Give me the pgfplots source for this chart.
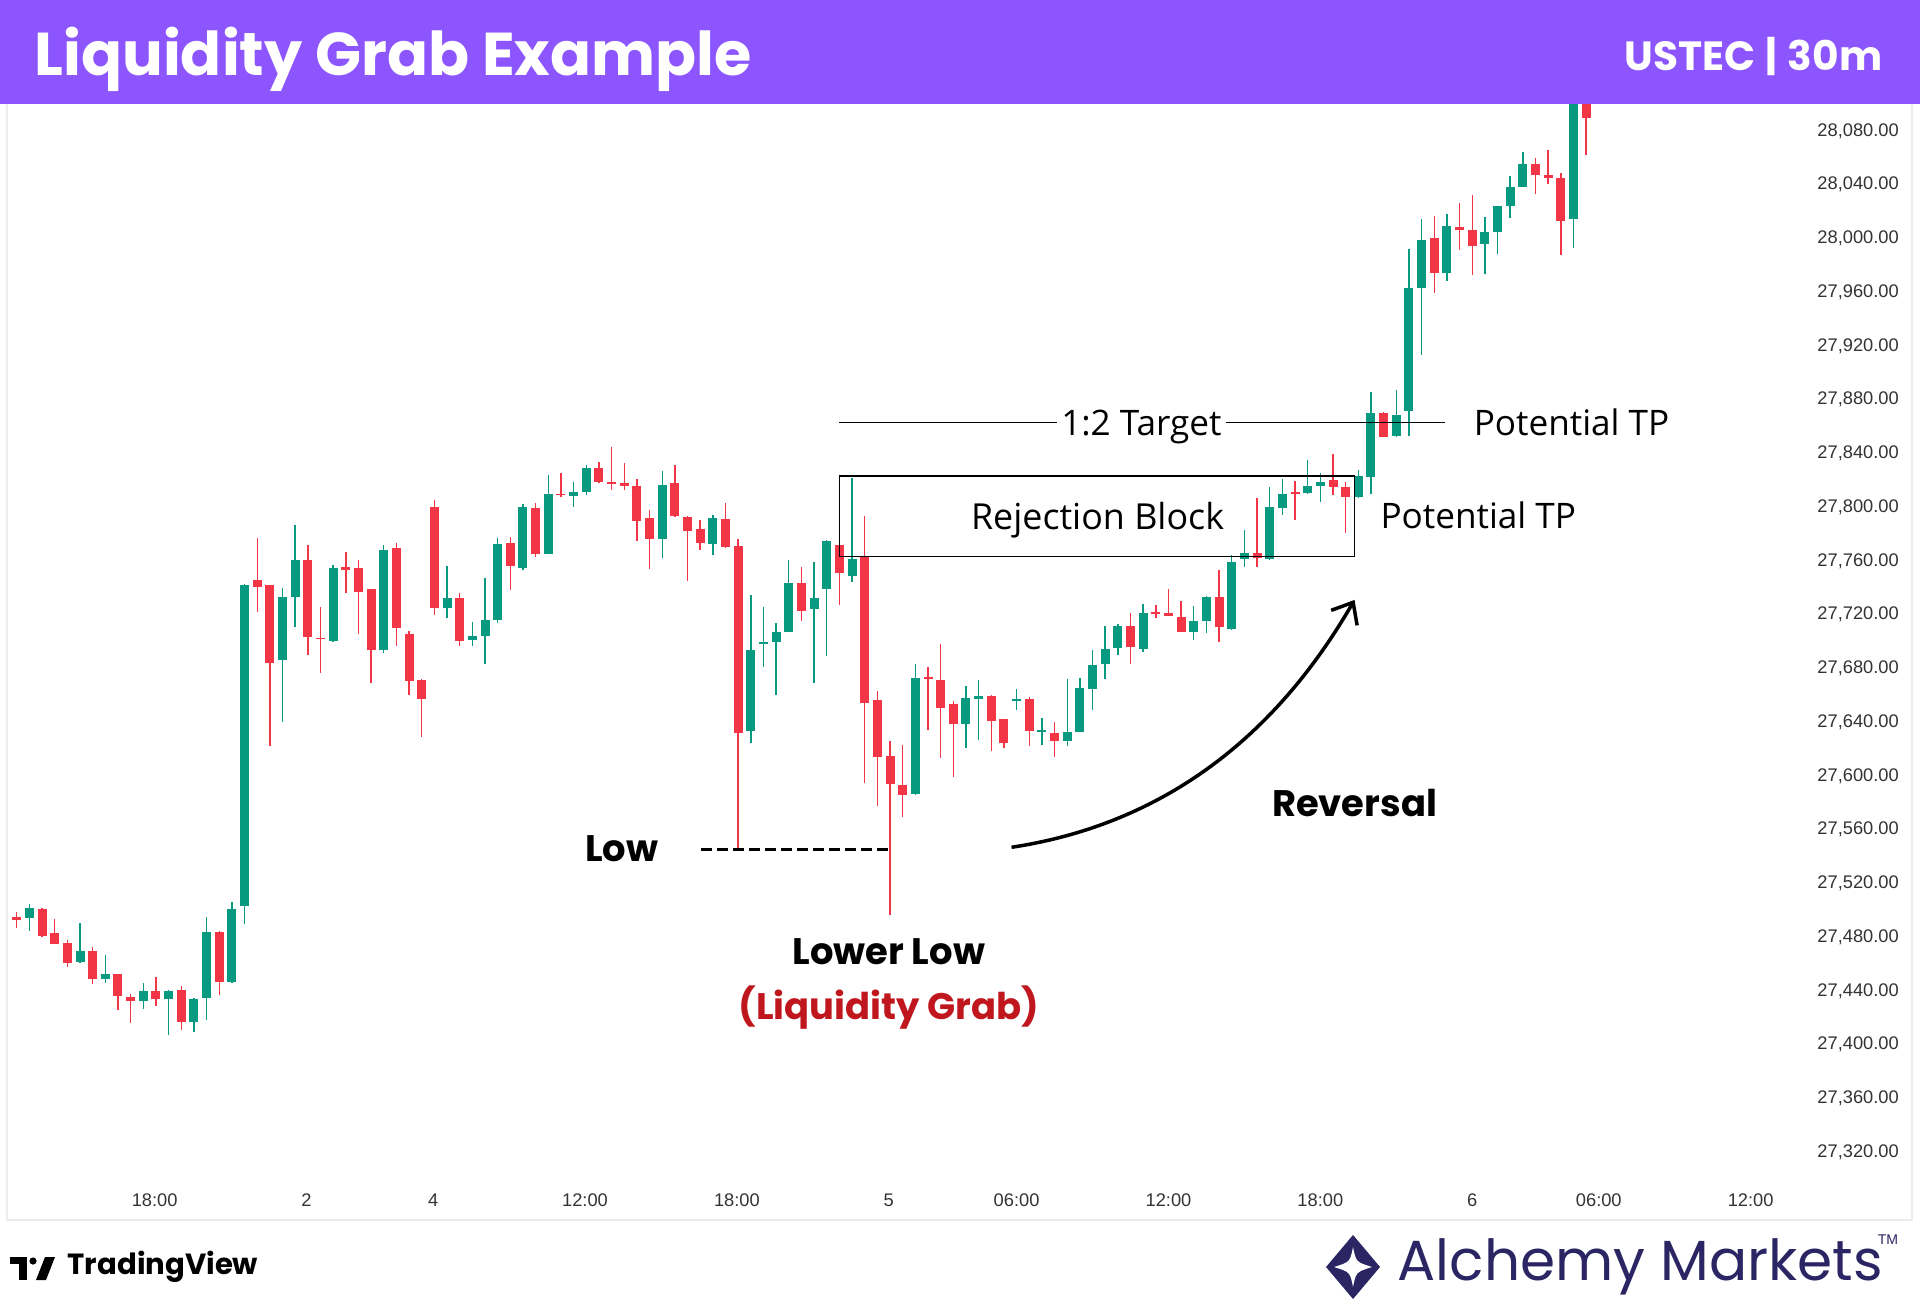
\documentclass[border=0pt]{standalone}
\usepackage{pgfplots}
\pgfplotsset{compat=1.18}
\usepackage{pgfplotstable}
\usepackage{fontspec}
\usetikzlibrary{arrows.meta}
\setmainfont{Open Sans}
\newfontfamily\pop{Poppins}
\newfontfamily\lsans{Liberation Sans}
\definecolor{hdr}{HTML}{8C55FE}
\definecolor{cgreen}{HTML}{089981}
\definecolor{cred}{HTML}{F23645}
\definecolor{navy}{HTML}{2B2563}
\definecolor{grabred}{HTML}{C0161E}
\definecolor{lbl}{HTML}{333333}
\definecolor{framec}{HTML}{ECECEC}

% up candles: index open high low close
\pgfplotstableread{
i o h l c
1 27494 27504.5 27485 27501.5
5 27461.8 27490.8 27461 27470
7 27449 27466.8 27446 27452.4
10 27432.5 27446 27427 27440
12 27434.5 27440.7 27407.2 27440
14 27416.7 27435 27409.2 27434
15 27434.5 27495.3 27418.4 27483.6
17 27446.9 27506.5 27446 27501.5
18 27503 27743 27490 27742
21 27686.3 27739.6 27640.4 27733.4
22 27733.4 27786.7 27710.6 27760.7
25 27700.7 27757 27700 27755.2
29 27693.7 27771.9 27691.7 27768.1
34 27724.7 27756.2 27717.3 27732.2
36 27701.2 27714.8 27696.7 27704.4
37 27704.1 27747.5 27683.3 27716
38 27716 27776.8 27714 27773.1
40 27755 27802.4 27753.2 27800.4
42 27765.6 27824.4 27765 27809.6
44 27808.3 27819 27799.9 27811.5
45 27811.5 27831.4 27809.1 27829.4
51 27776.8 27827.2 27761.9 27817
55 27772.6 27794.2 27764.4 27791.7
58 27633.7 27734.7 27624.8 27693.8
59 27698.2 27725.5 27680.9 27700
60 27700 27714.1 27660.3 27707.4
61 27707.4 27760.8 27707 27743.9
63 27724 27759.5 27669 27732.7
64 27738.9 27775.5 27689.3 27775.1
66 27748.8 27822 27744.6 27761.3
71 27586.6 27683.3 27586 27672.7
75 27638.7 27667 27620.6 27657.8
76 27657.3 27671.9 27626.8 27659.5
79 27656.1 27665.2 27649.1 27657.3
81 27633 27642.9 27623.1 27634.2
83 27626.3 27671.9 27622.3 27633
84 27633 27672.7 27633 27665.8
85 27664.5 27693.8 27649.1 27682.6
86 27683.4 27711.6 27671.9 27695
87 27695 27713.6 27690.1 27711.6
89 27694.3 27728 27692.5 27721.1
93 27707.4 27726.5 27701.2 27715.6
94 27715.6 27734 27706.2 27733.5
96 27709.2 27764.5 27709 27759.5
97 27761.3 27783.1 27755.8 27765.7
99 27761.3 27814.9 27761 27800.5
100 27799.2 27820.8 27794.3 27809.6
102 27810.4 27835 27810 27815.8
103 27815.8 27825.3 27804.2 27819.1
106 27807.8 27827.7 27807 27823.2
107 27822.7 27886 27810.3 27869.8
109 27853 27887.7 27852.5 27868.6
110 27871.8 27991.9 27853 27963.6
111 27963.6 28014.2 27913.3 27998.9
113 27974.5 28018.2 27968.6 28009.3
116 27995.9 28016.2 27973.6 28005.1
117 28005.1 28024.5 27988.4 28024.2
118 28024.2 28046.5 28015.7 28038.6
119 28038.6 28064.6 28038 28055.4
123 28014.2 28110 27992.7 28104
}\upc

% down candles: index open high low close
\pgfplotstableread{
i o h l c
0 27495 27499 27487 27493
2 27501.5 27502 27480 27481
3 27483 27494 27475 27475
4 27475.5 27478 27458 27460.6
6 27470 27473 27445 27449
8 27452.4 27452.4 27425.9 27436.5
9 27435.8 27438 27416 27432.5
11 27440 27450.7 27428.8 27434.5
13 27440.7 27443.7 27411 27416.7
16 27484 27484.9 27437 27446.9
19 27746.3 27776.8 27722.2 27740.4
20 27742 27742.5 27622.3 27684.3
23 27760.7 27771.9 27690 27703.2
24 27703 27725.5 27676.8 27701.7
26 27755.2 27766.9 27736.4 27753.3
27 27754.5 27760.7 27705.6 27737.1
28 27738.9 27739.5 27668.9 27693.7
30 27769.4 27773.1 27696.7 27709.8
31 27705.6 27708.1 27660.2 27670.9
32 27671.4 27672.6 27629.2 27657
33 27800.4 27805.4 27719.8 27724.7
35 27732.2 27736.4 27696.7 27700.7
39 27773.1 27778 27738.9 27756.2
41 27799.1 27803.4 27763.2 27764.9
43 27810.3 27825.7 27807.3 27809.1
46 27829.4 27833.9 27818 27819
47 27819 27845 27812.8 27817.7
48 27818.2 27833.1 27812.8 27815.8
49 27815.8 27820.7 27774.8 27789.7
50 27791.7 27797.9 27754 27776.1
52 27818.2 27831.9 27793 27793.4
53 27792.9 27793.4 27745.3 27782.5
54 27783.5 27790.5 27768.1 27773.6
56 27791.7 27803.4 27770 27770.6
57 27771.1 27776.1 27544.9 27632.2
62 27743.9 27755.3 27715.4 27722.8
65 27771.9 27776 27727.3 27751.3
67 27763.2 27793.5 27594.5 27654.1
68 27656.6 27663.5 27577.7 27614.4
69 27614.9 27626.3 27496.5 27594
70 27593.3 27623.1 27569.7 27585.9
72 27673.4 27681.4 27634.2 27672.4
73 27671.4 27698.2 27613.1 27650.4
74 27653.6 27656.1 27599 27638.7
77 27659.5 27660 27618.8 27641.2
78 27642.2 27642.5 27620.6 27624.3
80 27657.3 27658.6 27622.3 27633.8
82 27632.3 27640.4 27613.9 27626.3
88 27711.6 27721.1 27683.4 27695.8
90 27722.3 27727.3 27717.4 27721.1
91 27721.1 27738.9 27719 27719.1
92 27718.1 27730.5 27707 27707.4
95 27733 27753.3 27700 27711.2
98 27765.7 27806.7 27755.8 27762
101 27811.1 27819.8 27790.5 27810.4
104 27820.3 27840 27809.1 27814.9
105 27814.9 27819.1 27781.1 27807.4
108 27870.3 27871.1 27852 27852.5
112 28000.1 28016.7 27959.2 27974.5
114 28008.8 28026.1 27991.4 28006.3
115 28006.3 28032.3 27972.8 27994.4
120 28055.4 28059.6 28033.1 28047.2
121 28047.2 28065.8 28041 28044.8
122 28044.8 28048.5 27987.7 28013.2
124 28104 28106 28062.1 28089.4
}\dnc

\pgfplotsset{
  wick/.style={draw=none, mark=none, forget plot,
    error bars/.cd, y dir=both, y explicit, error mark=none,
    error bar style={draw=#1, line width=0.14mm}},
  body/.style={draw=none, mark=none, forget plot,
    error bars/.cd, y dir=both, y explicit, error mark=none,
    error bar style={draw=#1, line width=0.9mm, line cap=butt}},
}

\begin{document}
\begin{tikzpicture}
\fill[white] (0,0) rectangle (192mm,131.4mm);
\begin{axis}[
  at={(0.8mm,13.4mm)}, anchor=south west,
  scale only axis, width=179.2mm, height=107.6mm,
  xmin=-0.69, xmax=140.9, ymin=27299.3, ymax=28100.1,
  axis line style={draw=none}, tick style={draw=none},
  xtick={10.9,22.9,32.9,44.9,56.9,68.9,79,91,103,115,125,137},
  xticklabels={18:00,2,4,12:00,18:00,5,06:00,12:00,18:00,6,06:00,12:00},
  ytick={27320,27360,27400,27440,27480,27520,27560,27600,27640,27680,27720,27760,27800,27840,27880,27920,27960,28000,28040,28080},
  yticklabels={{27,320.00},{27,360.00},{27,400.00},{27,440.00},{27,480.00},{27,520.00},{27,560.00},{27,600.00},{27,640.00},{27,680.00},{27,720.00},{27,760.00},{27,800.00},{27,840.00},{27,880.00},{27,920.00},{27,960.00},{28,000.00},{28,040.00},{28,080.00}},
  yticklabel pos=right,
  yticklabel style={anchor=west, inner sep=0pt, xshift=1.67mm,
    font=\lsans\fontsize{5.2}{6}\selectfont, text=lbl},
  xticklabel style={anchor=center, inner sep=0pt, yshift=-2.0mm,
    font=\lsans\fontsize{5.2}{6}\selectfont, text=lbl},
]
% wicks
\addplot[wick=cgreen] table[x=i, y expr={(\thisrow{h}+\thisrow{l})/2}, y error expr={(\thisrow{h}-\thisrow{l})/2}] {\upc};
\addplot[wick=cred] table[x=i, y expr={(\thisrow{h}+\thisrow{l})/2}, y error expr={(\thisrow{h}-\thisrow{l})/2}] {\dnc};
% bodies
\addplot[body=cgreen] table[x=i, y expr={(\thisrow{o}+\thisrow{c})/2}, y error expr={max(abs(\thisrow{c}-\thisrow{o})/2,0.6)}] {\upc};
\addplot[body=cred] table[x=i, y expr={(\thisrow{o}+\thisrow{c})/2}, y error expr={max(abs(\thisrow{c}-\thisrow{o})/2,0.6)}] {\dnc};

% 1:2 target line
\draw[black, line width=0.13mm] (axis cs:64.96,27863.1) -- (axis cs:112.85,27863.1);
\node[fill=white, inner xsep=1.2pt, inner ysep=1pt, yshift=-0.45mm, font=\fontsize{10}{12}\selectfont] at (axis cs:88.86,27863.1) {1:2 Target};
\node[anchor=west, inner sep=0pt, font=\fontsize{10}{12}\selectfont] at (axis cs:115.07,27863.1) {Potential TP};
% rejection block
\draw[black, line width=0.13mm] (axis cs:65.0,27763.5) rectangle (axis cs:105.7,27823.2);
\node[yshift=-0.45mm, font=\fontsize{10.2}{12}\selectfont] at (axis cs:85.4,27793.9) {Rejection Block};
\node[anchor=west, inner sep=0pt, font=\fontsize{10}{12}\selectfont] at (axis cs:107.7,27793.9) {Potential TP};
% low dashed
\draw[black, line width=0.3mm, dash pattern=on 1.1mm off 0.5mm] (axis cs:54.1,27545) -- (axis cs:68.9,27545);
\node[font=\pop\bfseries\fontsize{10.5}{12}\selectfont] at (axis cs:47.8,27546) {Low};
\node[font=\pop\bfseries\fontsize{10.5}{12}\selectfont] at (axis cs:68.9,27469.5) {Lower Low};
\node[text=grabred, font=\pop\bfseries\fontsize{10.5}{12}\selectfont] at (axis cs:68.9,27428) {(Liquidity Grab)};
\node[font=\pop\bfseries\fontsize{10.5}{12}\selectfont] at (axis cs:105.7,27579.8) {Reversal};
% reversal arrow
\draw[black, line width=0.35mm, -{Straight Barb[length=1.8mm,width=3mm]}]
  (axis cs:78.6,27546.9) .. controls (axis cs:90.14,27563.4) and (axis cs:99.18,27624.7) .. (axis cs:105.7,27731);
\end{axis}

\begin{scope}[x=0.1mm, y=-0.1mm, shift={(0,131.4mm)}]
% frame
\draw[framec, line width=0.25mm] (7,104) -- (7,1220) -- (1912,1220) -- (1912,104);
% header
\fill[hdr] (0,0) rectangle (1920,104);
\node[anchor=west, inner sep=0pt, text=white, font=\pop\bfseries\fontsize{17.2}{20}\selectfont] at (34,59) {Liquidity Grab Example};
\node[anchor=east, inner sep=0pt, text=white, font=\pop\bfseries\fontsize{11.6}{14}\selectfont] at (1883,57) {USTEC\hspace{0.25em}|\hspace{0.25em}30m};
% TradingView logo
\fill[black] (10,1257) rectangle (27,1264);
\fill[black] (19,1257) rectangle (27,1280);
\fill[black] (33,1261) circle (3.6);
\fill[black] (36,1280) -- (45,1257) -- (55,1257) -- (46,1280) -- cycle;
\node[anchor=west, inner sep=0pt, font=\pop\bfseries\fontsize{8.3}{10}\selectfont] at (67,1267) {TradingView};
% Alchemy Markets logo
\fill[navy] (1353,1235) -- (1380,1267) -- (1353,1299) -- (1326,1267) -- cycle;
\fill[white] (1353,1247) .. controls (1356,1262) .. (1372,1267) .. controls (1356,1272) .. (1353,1287)
  .. controls (1350,1272) .. (1334,1267) .. controls (1350,1262) .. cycle;
\node[anchor=west, inner sep=0pt, text=navy] at (1397,1267) {\resizebox{48.5mm}{!}{\pop Alchemy Markets}};
\node[anchor=center, inner sep=0pt, text=navy, font=\lsans\fontsize{4}{5}\selectfont] at (1888,1240) {TM};
\end{scope}
\pgfresetboundingbox
\useasboundingbox (0,0) rectangle (192mm,131.4mm);
\end{tikzpicture}
\end{document}
